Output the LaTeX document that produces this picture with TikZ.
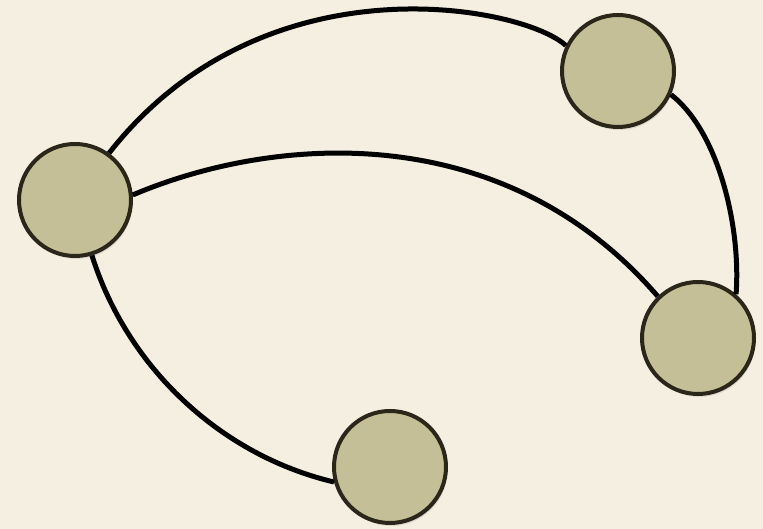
\documentclass[tikz,border=0pt]{standalone}
\usetikzlibrary{shadows}
\definecolor{paper}{HTML}{F5EFE1}
\definecolor{disc}{HTML}{C5BF98}
\definecolor{rim}{HTML}{2A261A}
\begin{document}
\begin{tikzpicture}[x=1pt,y=1pt,
	vertex/.style={circle, draw=rim, fill=disc, line width=4pt, minimum size=112pt, inner sep=0pt,
		drop shadow={opacity=0.2, shadow xshift=1.5pt, shadow yshift=-3pt}},
	edge/.style={line width=5pt, black}]
			\fill[paper] (0,0) rectangle (763,529);
			\useasboundingbox (0,0) rectangle (763,529);
			\node[vertex] (left) at (75,329) {};
			\node[vertex] (topright) at (618,458) {};
			\node[vertex] (right) at (698,191) {};
			\node[vertex] (bottom) at (390,62) {};
			\draw[edge] (left.54) .. controls (265,575) and (525,522) .. (topright.154);
			\draw[edge] (left.5) .. controls (274,394) and (503,412) .. (right.134);
			\draw[edge] (topright.-24) .. controls (720,396) and (741,299) .. (right.49);
			\draw[edge] (left.-73) .. controls (127,162) and (220,74) .. (bottom.195);
		\end{tikzpicture}
\end{document}
